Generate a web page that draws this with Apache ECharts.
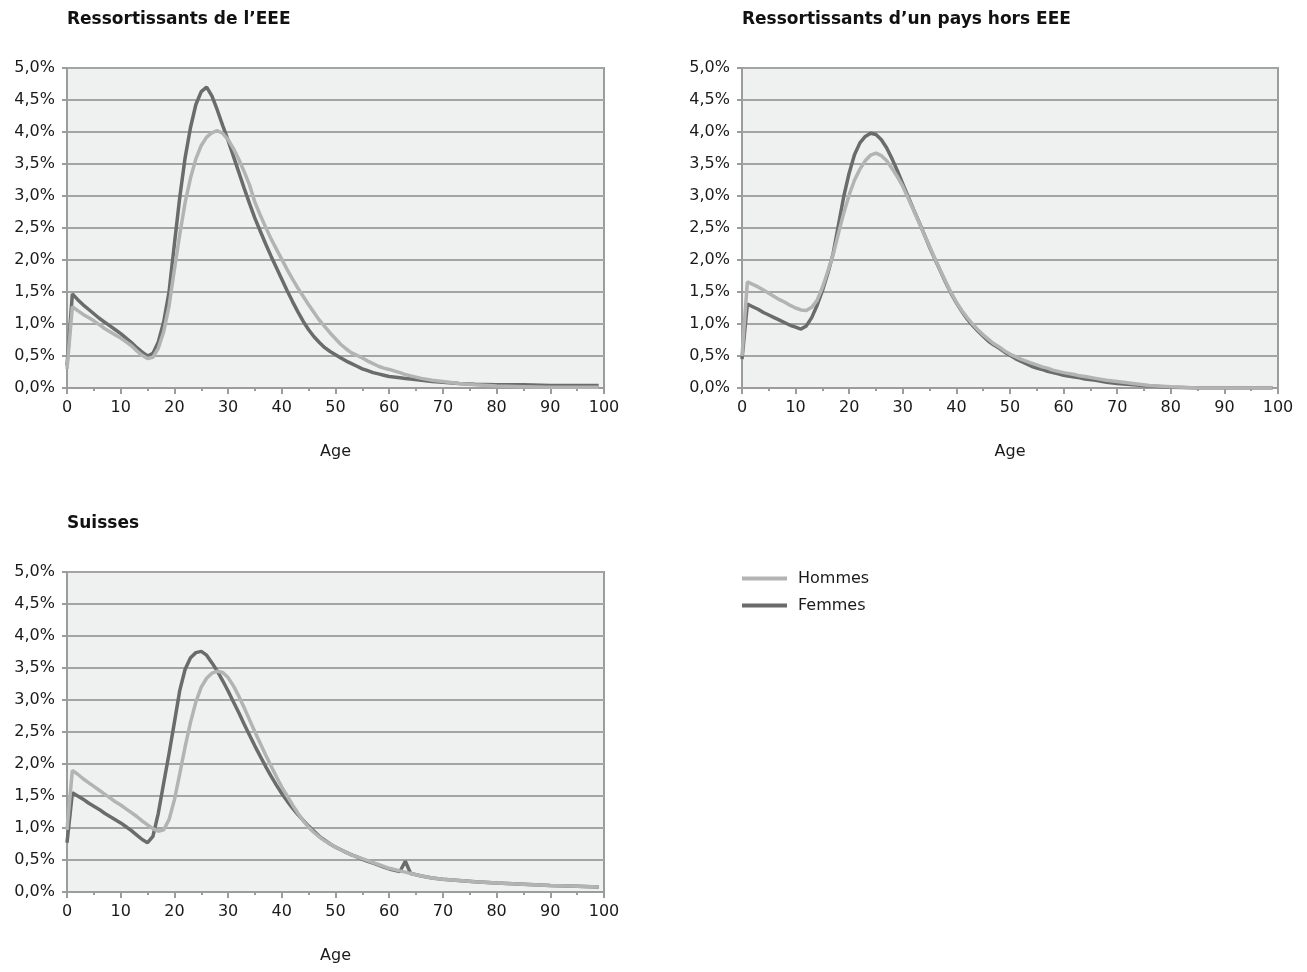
<!DOCTYPE html>
<html>
<head>
<meta charset="utf-8">
<script src="https://cdn.jsdelivr.net/npm/echarts@6/dist/echarts.min.js"></script>
<style>
html,body{margin:0;padding:0;background:#fff;}
#chart{width:1307px;height:972px;}
</style>
</head>
<body>
<div id="chart"></div>
<script>
// ---- DATA ----
const titles = ['Ressortissants de l\u2019EEE', 'Ressortissants d\u2019un pays hors EEE', 'Suisses'];
const seriesNames = ['Hommes', 'Femmes'];
const xTicks = [0, 10, 20, 30, 40, 50, 60, 70, 80, 90, 100];
const yTicks = [0, 0.5, 1, 1.5, 2, 2.5, 3, 3.5, 4, 4.5, 5];
const ages = [0,1,2,3,4,5,6,7,8,9,10,11,12,13,14,15,16,17,18,19,20,21,22,23,24,25,26,27,28,29,30,
  31,32,33,34,35,36,37,38,39,40,41,42,43,44,45,46,47,48,49,50,51,52,53,54,55,56,57,58,59,60,
  62,63,64,66,68,70,73,76,80,85,90,95,99];

// Ressortissants de l'EEE (%)
const eeeHommes = [0.30,1.27,1.21,1.15,1.10,1.05,0.99,0.93,0.88,0.83,0.78,0.72,0.66,0.58,0.51,0.46,0.48,0.62,0.88,1.28,1.85,
  2.40,2.90,3.28,3.58,3.79,3.92,3.99,4.02,3.98,3.88,3.74,3.57,3.38,3.17,2.90,2.70,2.51,2.33,2.17,2.01,
  1.85,1.70,1.56,1.43,1.30,1.18,1.06,0.96,0.86,0.77,0.68,0.61,0.55,0.51,0.47,0.42,0.38,0.34,0.31,0.29,
  0.24,0.21,0.19,0.15,0.12,0.10,0.07,0.05,0.03,0.02,0.01,0.01,0.01];
const eeeFemmes = [0.35,1.47,1.38,1.30,1.23,1.16,1.09,1.03,0.97,0.91,0.85,0.78,0.71,0.63,0.56,0.50,0.54,0.72,1.03,1.50,2.25,
  2.98,3.60,4.07,4.43,4.63,4.70,4.56,4.34,4.10,3.87,3.62,3.37,3.12,2.88,2.65,2.45,2.25,2.06,1.88,1.70,
  1.52,1.35,1.19,1.04,0.91,0.80,0.71,0.63,0.57,0.52,0.47,0.42,0.38,0.34,0.30,0.27,0.24,0.22,0.20,0.18,
  0.16,0.15,0.14,0.12,0.10,0.09,0.07,0.06,0.05,0.05,0.04,0.04,0.04];

// Ressortissants d'un pays hors EEE (%)
const horsHommes = [0.50,1.66,1.62,1.58,1.53,1.48,1.43,1.38,1.34,1.29,1.25,1.22,1.21,1.26,1.37,1.57,1.82,2.08,2.42,2.74,3.02,
  3.25,3.42,3.55,3.64,3.67,3.63,3.55,3.43,3.30,3.15,2.97,2.78,2.59,2.40,2.21,2.02,1.84,1.66,1.49,1.34,
  1.21,1.10,1.00,0.91,0.83,0.76,0.69,0.64,0.58,0.53,0.49,0.45,0.42,0.39,0.36,0.33,0.31,0.28,0.26,0.24,
  0.21,0.19,0.18,0.15,0.12,0.10,0.07,0.04,0.02,0.00,0.00,0.00,0.00];
const horsFemmes = [0.45,1.31,1.27,1.23,1.18,1.14,1.10,1.06,1.02,0.98,0.95,0.92,0.97,1.10,1.29,1.52,1.79,2.10,2.55,3.00,3.36,
  3.65,3.83,3.93,3.98,3.96,3.88,3.75,3.58,3.39,3.19,2.99,2.79,2.60,2.40,2.20,2.01,1.83,1.65,1.48,1.33,
  1.20,1.08,0.98,0.89,0.81,0.73,0.67,0.62,0.56,0.51,0.46,0.42,0.38,0.34,0.31,0.29,0.26,0.24,0.22,0.20,
  0.17,0.16,0.14,0.12,0.09,0.07,0.05,0.03,0.01,0.00,0.00,0.00,0.00];

// Suisses (%)
const suisHommes = [0.97,1.90,1.84,1.77,1.71,1.65,1.59,1.53,1.47,1.41,1.36,1.30,1.24,1.18,1.11,1.05,0.99,0.95,0.97,1.13,1.44,
  1.85,2.27,2.65,2.97,3.20,3.34,3.42,3.45,3.43,3.35,3.22,3.06,2.88,2.69,2.50,2.32,2.14,1.97,1.80,1.64,
  1.50,1.36,1.23,1.11,1.01,0.93,0.86,0.80,0.75,0.70,0.66,0.62,0.58,0.55,0.52,0.49,0.46,0.43,0.40,0.37,
  0.33,0.31,0.29,0.25,0.22,0.20,0.18,0.16,0.14,0.12,0.10,0.09,0.08];
const suisFemmes = [0.77,1.55,1.50,1.45,1.39,1.34,1.29,1.23,1.18,1.13,1.08,1.02,0.96,0.89,0.82,0.77,0.87,1.23,1.70,2.16,2.65,
  3.15,3.48,3.66,3.74,3.76,3.70,3.58,3.45,3.30,3.14,2.97,2.80,2.62,2.45,2.28,2.12,1.96,1.81,1.67,1.54,
  1.42,1.31,1.21,1.12,1.03,0.95,0.87,0.81,0.75,0.70,0.66,0.62,0.58,0.55,0.51,0.48,0.45,0.42,0.39,0.36,
  0.32,0.48,0.29,0.25,0.22,0.20,0.18,0.16,0.14,0.12,0.10,0.09,0.08];

const panels = [
  {title: titles[0], hommes: eeeHommes, femmes: eeeFemmes},
  {title: titles[1], hommes: horsHommes, femmes: horsFemmes},
  {title: titles[2], hommes: suisHommes, femmes: suisFemmes}
];

// ---- STYLE / LAYOUT ----
const FONT = 'DejaVu Sans';
const COL_H = '#b3b3b3';
const COL_F = '#6b6b6b';
const AXIS_COL = '#9c9c9c';
const GRID_COL = '#a4a4a4';
const LABEL_SIZE = 16;
const layouts = [
  {left: 67, top: 68, width: 537, height: 320, titleLeft: 67, titleTop: 11},
  {left: 742, top: 68, width: 536, height: 320, titleLeft: 742, titleTop: 11},
  {left: 67, top: 572, width: 537, height: 320, titleLeft: 67, titleTop: 515}
];

const pair = vals => ages.map((a, i) => [a, vals[i]]);
const fmtY = v => v.toFixed(1).replace('.', ',') + '%';

const option = {
  animation: false,
  backgroundColor: '#ffffff',
  textStyle: {fontFamily: FONT},
  title: layouts.map((l, i) => ({
    text: panels[i].title, left: l.titleLeft, top: l.titleTop, padding: 0,
    textStyle: {fontFamily: FONT, fontSize: 17, fontWeight: 'bold', color: '#111'}
  })),
  legend: {
    orient: 'vertical', left: 742, top: 569, padding: 0,
    data: seriesNames, icon: 'rect', itemWidth: 45, itemHeight: 4, itemGap: 8,
    textStyle: {fontFamily: FONT, fontSize: LABEL_SIZE, color: '#1a1a1a', lineHeight: 19, padding: [0, 0, 0, 6]}
  },
  grid: layouts.map(l => ({
    left: l.left, top: l.top, width: l.width, height: l.height,
    show: true, backgroundColor: '#eff0f0', borderColor: AXIS_COL, borderWidth: 2,
    containLabel: false
  })),
  xAxis: layouts.map((l, i) => ({
    gridIndex: i, type: 'value', min: xTicks[0], max: xTicks[xTicks.length - 1], interval: 10,
    name: 'Age', nameLocation: 'middle', nameGap: 56,
    nameTextStyle: {fontFamily: FONT, fontSize: LABEL_SIZE, color: '#1a1a1a'},
    axisLine: {show: true, lineStyle: {color: AXIS_COL, width: 2}},
    axisTick: {show: true, length: 6, lineStyle: {color: AXIS_COL, width: 2}},
    minorTick: {show: true, splitNumber: 2, length: 3, lineStyle: {color: AXIS_COL, width: 2}},
    splitLine: {show: false},
    axisLabel: {fontFamily: FONT, fontSize: LABEL_SIZE, color: '#1a1a1a', margin: 12}
  })),
  yAxis: layouts.map((l, i) => ({
    gridIndex: i, type: 'value', min: yTicks[0], max: yTicks[yTicks.length - 1], interval: 0.5,
    axisLine: {show: true, lineStyle: {color: AXIS_COL, width: 2}},
    axisTick: {show: true, length: 5, lineStyle: {color: AXIS_COL, width: 2}},
    splitLine: {show: true, lineStyle: {color: GRID_COL, width: 2}},
    axisLabel: {fontFamily: FONT, fontSize: LABEL_SIZE, color: '#1a1a1a', margin: 12, formatter: fmtY}
  })),
  series: []
};

panels.forEach((p, i) => {
  option.series.push({
    name: seriesNames[1], type: 'line', xAxisIndex: i, yAxisIndex: i,
    data: pair(p.femmes), showSymbol: false, symbol: 'none',
    lineStyle: {color: COL_F, width: 3.5}, itemStyle: {color: COL_F}, z: 2
  });
  option.series.push({
    name: seriesNames[0], type: 'line', xAxisIndex: i, yAxisIndex: i,
    data: pair(p.hommes), showSymbol: false, symbol: 'none',
    lineStyle: {color: COL_H, width: 3.5}, itemStyle: {color: COL_H}, z: 3
  });
});

const chart = echarts.init(document.getElementById('chart'), null, {renderer: 'canvas'});
chart.setOption(option);
</script>
</body>
</html>
